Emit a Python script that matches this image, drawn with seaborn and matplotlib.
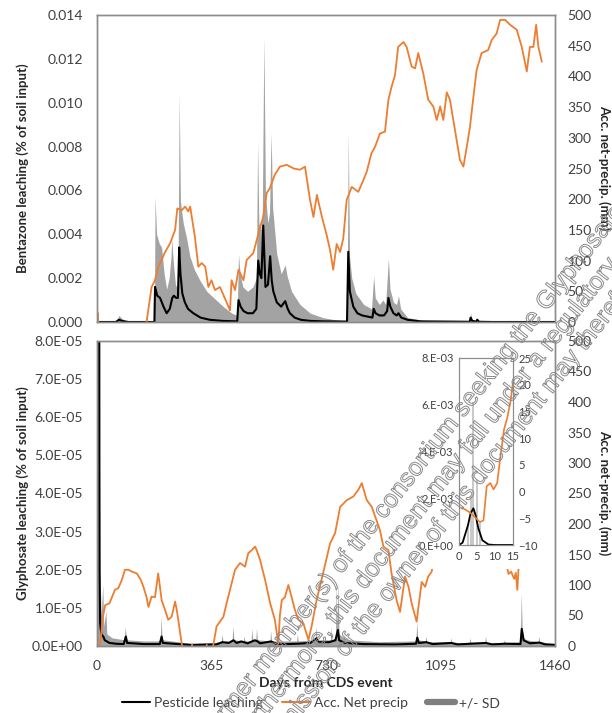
import matplotlib
matplotlib.use("Agg")
import matplotlib.pyplot as plt
import matplotlib.patheffects as pe
from matplotlib.lines import Line2D
from matplotlib.patches import Rectangle
import seaborn as sns

sns.set_style("white")
plt.rcParams['font.family'] = ['Lato', 'DejaVu Sans']

# ---------------- data ----------------
# Bentazone (top panel): (day, value)
bent_mean_pts = [(0, 0), (60, 0), (70, 1e-4), (80, 5e-5), (100, 0), (183, 0), (185, 0.0016), (192, 0.0012),
                 (201, 0.0011), (212, 0.0007), (222, 0.0004), (232, 0.0006), (240, 0.0011), (245, 0.0012),
                 (252, 0.0011), (258, 0.0011), (262, 0.0034), (266, 0.0022), (272, 0.0013), (280, 0.0009),
                 (290, 0.0006), (307, 0.0004), (330, 0.0002), (360, 0.0001), (400, 5e-5), (447, 3e-5),
                 (451, 0.0010), (458, 0.0007), (467, 0.0005), (480, 0.0004), (497, 0.0004), (508, 0.0006),
                 (514, 0.0028), (519, 0.0022), (524, 0.0020), (530, 0.0044), (537, 0.0016), (545, 0.0017),
                 (552, 0.0030), (557, 0.0019), (562, 0.0014), (573, 0.0009), (587, 0.0007), (600, 0.00095),
                 (608, 0.0006), (615, 0.0004), (630, 0.0002), (650, 0.0001), (680, 5e-5), (720, 3e-5),
                 (797, 2e-5), (801, 0.0032), (806, 0.0014), (817, 0.0007), (830, 0.0004), (845, 0.0003),
                 (878, 0.0002), (882, 0.0006), (888, 0.0004), (900, 0.0003), (915, 0.0003), (925, 0.0005),
                 (929, 0.0011), (935, 0.0007), (945, 0.0004), (955, 0.0003), (961, 0.0004), (970, 0.0002),
                 (990, 0.0001), (1030, 3e-5), (1188, 1e-5), (1191, 0.0002), (1196, 5e-5), (1209, 2e-5),
                 (1212, 0.0001), (1218, 1e-5), (1260, 0), (1460, 0)]
bent_sd_pts = [(0, 0), (60, 0), (70, 0.0003), (76, 0.0002), (90, 5e-5), (100, 0), (183, 0), (185, 0.0057),
               (190, 0.0040), (198, 0.0036), (206, 0.0034), (214, 0.0022), (222, 0.0015), (230, 0.0020),
               (236, 0.0030), (238, 0.0038), (244, 0.0026), (250, 0.0017), (258, 0.0015), (262, 0.0104),
               (266, 0.0055), (275, 0.0045), (286, 0.0038), (296, 0.0030), (310, 0.0024), (328, 0.0019),
               (350, 0.0014), (380, 0.0010), (403, 0.0007), (430, 0.0004), (447, 0.0003), (451, 0.0031),
               (456, 0.0022), (465, 0.0016), (480, 0.0014), (497, 0.0016), (508, 0.0020), (512, 0.0082),
               (516, 0.0045), (522, 0.0042), (527, 0.0050), (532, 0.0130), (537, 0.0058), (545, 0.0045),
               (550, 0.0050), (555, 0.0086), (560, 0.0052), (573, 0.0031), (587, 0.0022), (600, 0.0026),
               (606, 0.0021), (620, 0.0014), (647, 0.0008), (680, 0.0004), (720, 0.0002), (760, 0.0001),
               (797, 5e-5), (801, 0.0087), (805, 0.0030), (812, 0.0020), (825, 0.0013), (850, 0.0008),
               (875, 0.0006), (882, 0.0021), (887, 0.0011), (900, 0.0008), (912, 0.0010), (920, 0.0008),
               (929, 0.0029), (934, 0.0015), (945, 0.0009), (955, 0.0008), (961, 0.0012), (968, 0.0006),
               (990, 0.0002), (1050, 5e-5), (1100, 2e-5), (1188, 3e-5), (1191, 0.0004), (1196, 0.0001),
               (1209, 5e-5), (1212, 0.0002), (1218, 3e-5), (1300, 0), (1460, 0)]
bent_precip_pts = [(0, 0), (2, 15), (4, 0), (6, -10), (150, -10), (158, 0), (174, 57), (185, 68), (195, 90),
                   (206, 101), (217, 114), (233, 128), (249, 150), (256, 185), (270, 182), (281, 188),
                   (291, 180), (297, 188), (312, 139), (323, 90), (334, 96), (345, 90), (355, 57), (365, 68),
                   (376, 52), (392, 57), (403, 44), (419, 25), (424, 19), (429, 68), (440, 52), (451, 85),
                   (467, 68), (477, 101), (498, 112), (509, 133), (520, 155), (530, 171), (541, 210),
                   (551, 218), (567, 240), (583, 253), (605, 256), (627, 250), (647, 248), (663, 253),
                   (679, 199), (690, 171), (701, 207), (717, 171), (732, 142), (743, 117), (753, 85),
                   (764, 127), (775, 114), (785, 136), (796, 199), (812, 220), (833, 212), (849, 231),
                   (860, 245), (875, 275), (886, 285), (902, 307), (918, 310), (929, 362), (939, 383),
                   (950, 402), (960, 448), (977, 456), (987, 448), (1003, 416), (1014, 413), (1024, 438),
                   (1040, 405), (1056, 362), (1072, 351), (1083, 329), (1094, 351), (1104, 329), (1115, 374),
                   (1125, 362), (1141, 313), (1157, 264), (1168, 253), (1179, 286), (1189, 318), (1200, 367),
                   (1210, 410), (1226, 438), (1247, 443), (1258, 459), (1274, 470), (1285, 492), (1301, 492),
                   (1317, 484), (1338, 476), (1354, 448), (1370, 408), (1380, 448), (1391, 448), (1400, 484),
                   (1407, 448), (1418, 424)]

# Glyphosate (bottom panel): (day, value)
glyph_mean_pts = [(0, 0), (1, 3e-4), (2, 6e-4), (3, 1.3e-3), (4, 1.57e-3), (5, 1.0e-3), (6, 4e-4), (7, 1e-4),
                  (8, 2e-5), (10, 6e-6), (14, 3e-6), (20, 2.5e-6), (25, 1.5e-6), (40, 8e-7), (60, 6e-7),
                  (85, 5e-7), (92, 2.5e-6), (96, 8e-7), (150, 5e-7), (200, 5e-7), (206, 2.5e-6), (210, 8e-7),
                  (260, 5e-7), (300, 3e-7), (380, 4e-7), (400, 1e-6), (420, 8e-7), (435, 1.5e-6), (445, 8e-7),
                  (460, 1.2e-6), (480, 7e-7), (503, 1.5e-6), (510, 1.3e-6), (520, 7e-7), (555, 1.2e-6),
                  (570, 6e-7), (600, 5e-7), (640, 6e-7), (680, 8e-7), (700, 2e-6), (705, 1e-6), (740, 1e-6),
                  (760, 1.5e-6), (768, 4.2e-6), (772, 1.5e-6), (790, 8e-7), (850, 5e-7), (950, 4e-7),
                  (1017, 6e-7), (1021, 2.2e-6), (1026, 8e-7), (1050, 1.0e-6), (1070, 5e-7), (1130, 8e-7),
                  (1150, 4e-7), (1190, 6e-7), (1240, 8e-7), (1260, 4e-7), (1300, 6e-7), (1350, 5e-7),
                  (1354, 4.5e-6), (1360, 1.5e-6), (1380, 7e-7), (1410, 9e-7), (1430, 4e-7), (1460, 3e-7)]
glyph_sd_pts = [(0, 0), (1, 1e-3), (3, 3e-3), (4, 6e-3), (5, 3e-3), (7, 5e-4), (9, 5e-5), (12, 1.6e-5),
                (15, 8e-6), (20, 1.6e-5), (23, 5e-6), (30, 9e-6), (33, 3e-6), (50, 2e-6), (88, 1.5e-6),
                (92, 5e-6), (95, 1.5e-6), (150, 1.2e-6), (203, 1.2e-6), (206, 7.5e-6), (209, 1.5e-6),
                (260, 1e-6), (300, 5e-7), (380, 8e-7), (398, 1.2e-6), (400, 3e-6), (403, 1.2e-6),
                (432, 1.2e-6), (435, 5e-6), (438, 1.5e-6), (468, 1.2e-6), (470, 2.5e-6), (473, 1.2e-6),
                (493, 1.2e-6), (495, 4.5e-6), (498, 1.5e-6), (508, 1.5e-6), (510, 4.5e-6), (513, 1.5e-6),
                (553, 1.2e-6), (555, 4e-6), (558, 1.2e-6), (638, 1.2e-6), (640, 3e-6), (643, 1.2e-6),
                (697, 1.5e-6), (700, 5e-6), (703, 1.5e-6), (746, 1.5e-6), (748, 5e-6), (751, 1.5e-6),
                (762, 2e-6), (764, 1.7e-5), (767, 5e-6), (770, 1.7e-5), (773, 3e-6), (800, 1.5e-6),
                (900, 1e-6), (1018, 1.2e-6), (1021, 6.4e-6), (1024, 1.5e-6), (1048, 1.2e-6), (1050, 2.5e-6),
                (1053, 1e-6), (1128, 1e-6), (1130, 2e-6), (1133, 8e-7), (1188, 8e-7), (1190, 2e-6),
                (1193, 8e-7), (1238, 8e-7), (1240, 2.5e-6), (1243, 8e-7), (1298, 8e-7), (1300, 1.5e-6),
                (1303, 8e-7), (1351, 1e-6), (1354, 1.4e-5), (1357, 4e-6), (1362, 2e-6), (1370, 1.5e-6),
                (1408, 1e-6), (1410, 2.5e-6), (1413, 1e-6), (1430, 8e-7), (1460, 5e-7)]
glyph_precip_pts = [(0, 0), (10, 2), (18, 45), (26, 67), (40, 70), (57, 92), (68, 95), (79, 108), (89, 125),
                    (100, 125), (111, 122), (127, 119), (140, 108), (148, 97), (158, 80), (164, 64), (174, 81),
                    (185, 80), (195, 119), (200, 100), (206, 75), (217, 59), (227, 43), (238, 48), (249, 73),
                    (254, 60), (259, 43), (270, 4), (275, -10), (300, -10), (303, 3), (306, -10), (346, -10),
                    (350, 2), (354, -10), (367, -5), (371, 2), (381, 32), (403, 48), (413, 70), (424, 92),
                    (440, 125), (456, 136), (472, 130), (482, 152), (493, 157), (504, 163), (509, 157),
                    (520, 141), (536, 108), (552, 70), (567, 43), (578, 4), (583, 50), (589, 75), (599, 80),
                    (610, 100), (620, 81), (631, 59), (642, 43), (658, 37), (674, 10), (684, 32), (700, 75),
                    (721, 120), (743, 168), (759, 185), (775, 228), (796, 239), (817, 245), (833, 256),
                    (844, 267), (860, 239), (876, 228), (902, 190), (913, 163), (929, 157), (939, 119),
                    (955, 75), (966, 56), (982, 114), (993, 97), (1003, 70), (1019, 40), (1025, 65),
                    (1035, 105), (1046, 97), (1056, 114), (1067, 122), (1075, 150), (1100, 200), (1200, 260),
                    (1290, 200), (1305, 133), (1312, 118), (1320, 122), (1330, 110), (1335, 120), (1340, 92),
                    (1345, 140), (1380, 200), (1418, 240)]

# inset (first 15 days, glyphosate)
inset_mean_pts = [(0, 0), (1, 1e-4), (1.6, 4e-4), (2.5, 8.5e-4), (3.2, 1.35e-3), (4.0, 1.57e-3),
                  (4.6, 1.28e-3), (5.4, 7e-4), (6.5, 2e-4), (8.2, 2e-5), (10, 0), (15, 0)]
inset_sd_days = [2.5, 3.2, 4.0, 4.9, 5.7]
inset_sd_top = [9e-4, 2.1e-3, 6.1e-3, 2.8e-3, 1.0e-3]
inset_precip_pts = [(0.85, -3), (3, -3.9), (4, -4.5), (5.8, -5.7), (6.8, -5.4), (7.7, 1), (8.7, 1.6),
                    (9.6, 0.4), (10.6, 1.6), (11.5, 6.5), (12.5, 11.6), (13.4, 13.8), (14.3, 16.8), (15, 20.5)]

day_ticks = [0, 365, 730, 1095, 1460]

# ---------------- styling ----------------
ORANGE = '#ED7D31'
GRAY = '#a3a3a3'
SPINE = '#8c8c8c'
TXT = '#404040'
W, H = 612, 713


def unz(pts):
    return [p[0] for p in pts], [p[1] for p in pts]


def frame(ax, right=False):
    for s in ax.spines.values():
        s.set_color(SPINE)
        s.set_linewidth(1.0)
    ax.tick_params(length=0, labelsize=10, labelcolor=TXT, pad=10 if not right else 9)


def box(l, t, r, b):
    return [l / W, 1 - b / H, (r - l) / W, (b - t) / H]


fig = plt.figure(figsize=(W / 100, H / 100), dpi=100)
ax1 = fig.add_axes(box(97, 15, 555, 322))
ax2 = fig.add_axes(box(97, 341, 555, 646))

panels = [
    (ax1, bent_mean_pts, bent_sd_pts, bent_precip_pts, 0.014, 0.002, lambda v, p: f"{v:.3f}"),
    (ax2, glyph_mean_pts, glyph_sd_pts, glyph_precip_pts, 8e-5, 1e-5, lambda v, p: f"{v:.1E}"),
]

for ax, mean_pts, sd_pts, pr_pts, ymax, ystep, fmt in panels:
    sx, sy = unz(sd_pts)
    ax.fill_between(sx, 0, sy, color=GRAY, lw=0)
    mx, my = unz(mean_pts)
    sns.lineplot(x=mx, y=my, ax=ax, color='black', lw=1.5, estimator=None, sort=False)
    ax.set_xlim(0, 1460)
    ax.set_ylim(0, ymax)
    ax.set_yticks([i * ystep for i in range(int(round(ymax / ystep)) + 1)])
    ax.yaxis.set_major_formatter(plt.FuncFormatter(fmt))
    ax.set_xticks(day_ticks)
    frame(ax)

    axr = ax.twinx()
    px, py = unz(pr_pts)
    sns.lineplot(x=px, y=py, ax=axr, color=ORANGE, lw=1.3, estimator=None, sort=False)
    axr.set_ylim(0, 500)
    axr.set_yticks(range(0, 501, 50))
    axr.set_xlim(0, 1460)
    frame(axr, right=True)
    ax.set_ylabel('')
    axr.set_ylabel('')

ax1.tick_params(axis='x', labelbottom=False)

# white area behind the inset chart
fig.patches.append(Rectangle((408 / W, 1 - 569 / H), 145 / W, 225 / H, transform=fig.transFigure,
                             facecolor='white', edgecolor='none', zorder=1.5))

# inset
axi = fig.add_axes(box(459, 358, 513, 545))
axi.set_zorder(3)
ix, iy = unz(inset_mean_pts)
axi.vlines(inset_sd_days, 0, inset_sd_top, colors='#c4c4c4', lw=1.3)
sns.lineplot(x=ix, y=iy, ax=axi, color='black', lw=1.3, estimator=None, sort=False)
axi.set_xlim(0, 15)
axi.set_ylim(0, 8e-3)
axi.set_xticks([0, 5, 10, 15])
axi.set_yticks([0, 2e-3, 4e-3, 6e-3, 8e-3])
axi.yaxis.set_major_formatter(plt.FuncFormatter(lambda v, p: f"{v:.0E}".replace('E', '.E')))
for s in axi.spines.values():
    s.set_color(SPINE)
axi.tick_params(length=0, labelsize=8, labelcolor=TXT, pad=4)
axi2 = axi.twinx()
axi2.set_zorder(4)
axi2.patch.set_visible(False)
qx, qy = unz(inset_precip_pts)
sns.lineplot(x=qx, y=qy, ax=axi2, color=ORANGE, lw=1.2, estimator=None, sort=False)
axi2.set_ylim(-10, 25)
axi2.set_yticks(range(-10, 26, 5))
axi2.set_xlim(0, 15)
for s in axi2.spines.values():
    s.set_color(SPINE)
axi2.tick_params(length=0, labelsize=8, labelcolor=TXT, pad=4)
axi.set_ylabel('')
axi2.set_ylabel('')

# axis titles
lab = dict(fontsize=9.5, fontweight='bold', color='#262626', va='center', ha='center')
fig.text(23 / W, 1 - 168 / H, 'Bentazone leaching (% of soil input)', rotation=90, **lab)
fig.text(23 / W, 1 - 493 / H, 'Glyphosate leaching (% of soil input)', rotation=90, **lab)
fig.text(604 / W, 1 - 168 / H, 'Acc. net-precip. (mm)', rotation=270, **lab)
fig.text(604 / W, 1 - 493 / H, 'Acc. net-precip. (mm)', rotation=270, **lab)
fig.text(326 / W, 1 - 683 / H, 'Days from CDS event', **dict(lab, fontsize=10))

handles = [Line2D([], [], color='black', lw=1.5),
           Line2D([], [], color=ORANGE, lw=1.5),
           Line2D([], [], color='#7f7f7f', lw=4.5)]
fig.legend(handles, ['Pesticide leaching', 'Acc. Net precip', '+/- SD'], loc='center', ncol=3,
           bbox_to_anchor=(311 / W, 1 - 703 / H), frameon=False, fontsize=10, handlelength=2.0,
           columnspacing=1.4, handletextpad=0.3, labelcolor=TXT)

# watermark
wm = [("ent/former member(s) of the consortium seeking the Glyphosate renewal", 430, 450),
      ("ion. Furthermore, this document may fall under a regulatory data protection", 464, 452),
      ("permission of the owner of this document may therefore be prohibited", 498, 452)]
for s, x, y in wm:
    fig.text(x / W, 1 - y / H, s, rotation=52, rotation_mode='anchor', ha='center', va='center',
             fontsize=18, family='Liberation Sans', color='none', zorder=10,
             path_effects=[pe.Stroke(linewidth=0.7, foreground='#8a8a8a')])

fig.savefig('out.png', dpi=100)
